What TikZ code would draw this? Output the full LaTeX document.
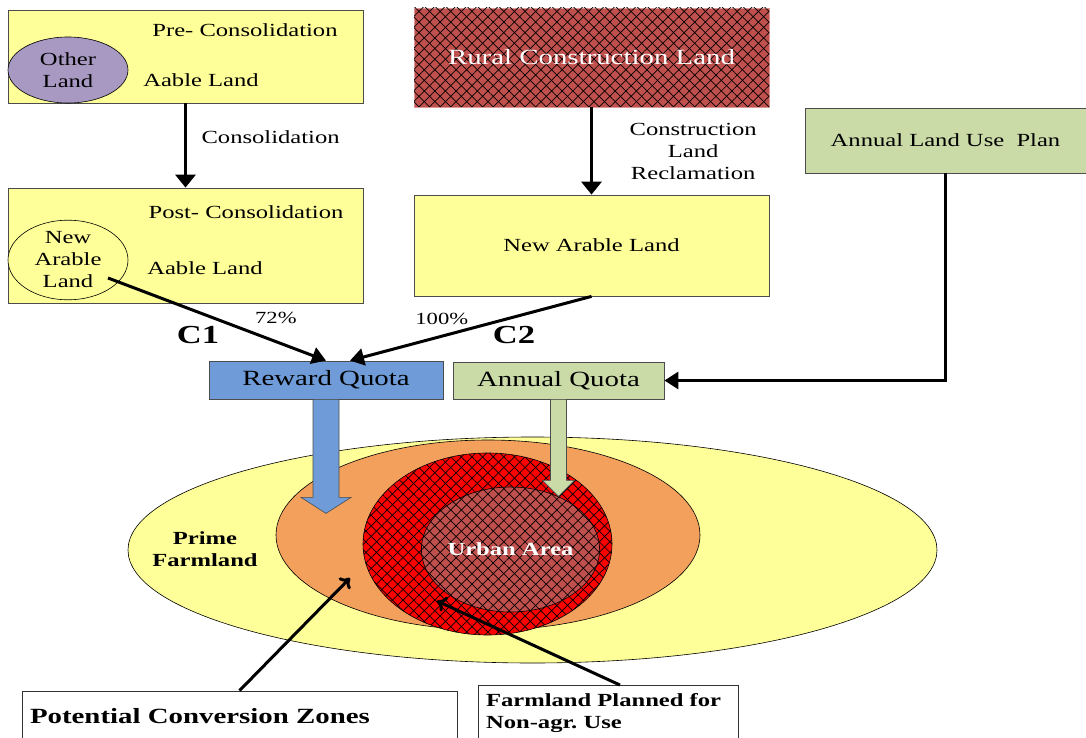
\documentclass[tikz,border=0pt]{standalone}
\usepackage{fontspec}
\setmainfont{Liberation Serif}[FakeStretch=1.33]
\usetikzlibrary{positioning, shapes.geometric, arrows.meta, patterns.meta, calc}
\definecolor{paleyellow}{HTML}{FFFF99}
\definecolor{lavender}{HTML}{A899C3}
\definecolor{brick}{HTML}{C0504D}
\definecolor{sage}{HTML}{CBDBA8}
\definecolor{quotablue}{HTML}{6F9CD8}
\definecolor{zoneorange}{HTML}{F2A05C}
\newcommand{\txt}{\fontsize{18.5}{22}\selectfont}
\newcommand{\bigtxt}{\fontsize{21.7}{25}\selectfont}
\frenchspacing

\begin{document}
\begin{tikzpicture}[x=1pt, y=-1pt,
    box/.style={draw=black!70, line width=0.8pt, inner sep=0pt, font=\txt},
    blob/.style={ellipse, draw, line width=0.6pt, inner sep=0pt, font=\txt, align=center},
    hatch/.style={postaction={pattern={Lines[angle=45,distance=7.5pt,line width=0.7pt]}},
                  postaction={pattern={Lines[angle=-45,distance=7.5pt,line width=0.7pt]}}},
    flow/.style={line width=3.5pt, -{Triangle[length=13pt,width=20pt]}},
    feed/.style={line width=3pt, -{Triangle[length=14pt,width=17pt]}},
    point/.style={line width=3pt, -{To[length=9pt,width=16pt]}},
    block/.style={draw=black!70, line width=0.6pt}]
  \useasboundingbox (0,0) rectangle (1086,738);

  % land consolidation
  \node[box, fill=paleyellow, minimum width=355pt, minimum height=93pt] (pre) at (185.5,56.5) {};
  \node[font=\txt] (pretitle) at (245,30) {Pre- Consolidation};
  \node[font=\txt] (prearable) at (201,80) {Aable Land};
  \node[blob, fill=lavender, minimum width=120pt, minimum height=66pt] (other) at (68,70) {Other\\Land};
  \node[box, fill=paleyellow, minimum width=355pt, minimum height=115pt] (post) at (185.5,245.5) {};
  \node[font=\txt] (posttitle) at (246,212) {Post- Consolidation};
  \node[font=\txt] (postarable) at (205,268) {Aable Land};
  \node[blob, fill=paleyellow, minimum width=120pt, minimum height=76pt] (newland) at (68,260) {New\\Arable\\Land};

  % construction land reclamation
  \node[box, fill=brick, hatch, draw=brick!60, text=white, font=\fontsize{21.7}{25}\selectfont,
        minimum width=355pt, minimum height=99pt] (rural) at (591.5,57.5) {Rural Construction Land};
  \node[box, fill=paleyellow, minimum width=355pt, minimum height=101pt] (newarable) at (591.5,245.5) {New Arable Land};

  % plan and quotas
  \node[box, fill=sage, minimum width=281pt, minimum height=65pt] (plan) at (945.5,140.5) {Annual Land Use~ Plan};
  \node[box, fill=quotablue, font=\bigtxt, minimum width=234pt, minimum height=38pt] (reward) at (326,380) {Reward Quota};
  \node[box, fill=sage, font=\bigtxt, minimum width=211pt, minimum height=37pt] (annual) at (558.5,380.5) {Annual Quota};
  \node[font=\fontsize{26}{30}\selectfont\bfseries] (cone) at (198,335) {C1};
  \node[font=\fontsize{26}{30}\selectfont\bfseries] (ctwo) at (514,335) {C2};

  % farmland zones
  \node[blob, fill=paleyellow, minimum width=809pt, minimum height=226pt] (prime) at (532.5,550) {};
  \node[font=\txt\bfseries, align=center] (primelabel) at (205,549) {Prime\\Farmland};
  \node[blob, fill=zoneorange, minimum width=424pt, minimum height=190pt] (zone) at (488,535) {};
  \node[blob, fill=red, hatch, minimum width=249pt, minimum height=182pt] (planned) at (487.5,544) {};
  \node[blob, fill=brick, hatch, text=white, font=\txt\bfseries, minimum width=173pt, minimum height=125pt] (urban) at (510.5,549.5) {Urban Area};

  \node[box, draw=black!80, font=\bigtxt\bfseries, text width=419pt, align=left, inner sep=8pt,
        minimum height=50pt] (pcz) at (239.5,716) {Potential Conversion Zones};
  \node[box, draw=black!80, font=\txt\bfseries, text width=244pt, align=left, inner sep=8pt,
        minimum height=50pt] (farm) at (608,713) {Farmland Planned for\\Non-agr. Use};

  \coordinate (pczend) at (350,578);
  \coordinate (farmend) at (437,601);

  % quota block arrows
  \draw[block, fill=quotablue] (reward.south) ++(-13,0) -- ++(0,98) -- ++(-12,0) -- ++(25,16)
    -- ++(25,-16) -- ++(-12,0) -- ++(0,-98) -- cycle;
  \draw[block, fill=sage] (annual.south) ++(-8,0) -- ++(0,81) -- ++(-8,0) -- ++(16,16)
    -- ++(16,-16) -- ++(-8,0) -- ++(0,-81) -- cycle;

  \draw[flow] (pre) -- node[pos=0.4, right=11pt, font=\txt] {Consolidation} (post);
  \draw[flow] (rural) -- node[right=33pt, font=\txt, align=center] {Construction\\Land\\Reclamation} (newarable);
  \draw[feed] ($(newland)+(40,18)$) -- node[pos=0.77, above=13pt, font=\fontsize{17}{20}\selectfont] {72\%} (reward.north);
  \draw[feed] (newarable.south) -- node[pos=0.62, above=7pt, font=\fontsize{17}{20}\selectfont] {100\%} ($(reward.north)+(24,0)$);
  \draw[feed] (plan.south) |- (annual.east);
  \draw[point] (pcz.north) -- (pczend);
  \draw[point] ($(farm.north)+(12,0)$) -- (farmend);
\end{tikzpicture}
\end{document}
